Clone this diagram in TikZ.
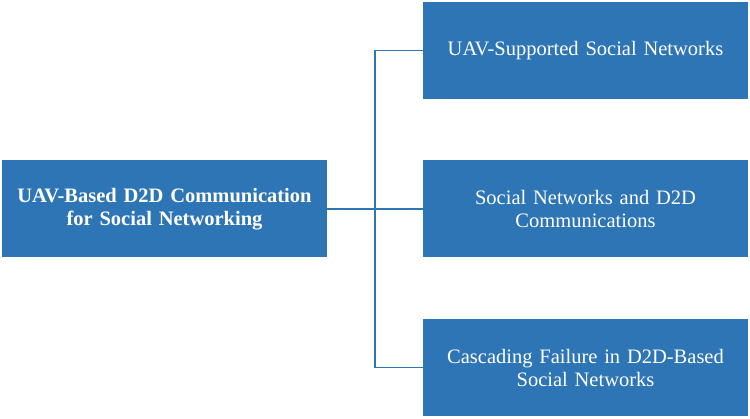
\documentclass[tikz,border=0pt]{standalone}
\usepackage{fontspec}
\setmainfont{Liberation Serif}
\definecolor{boxblue}{HTML}{2E75B6}
\begin{document}
\begin{tikzpicture}[x=1pt,y=1pt,
  bbox/.style={fill=boxblue,draw=none,minimum width=325pt,minimum height=97pt,text=white,align=center,font=\fontsize{20.5}{23}\selectfont,inner sep=2pt,text width=315pt},
  conn/.style={draw=boxblue,line width=1.8pt}]
\useasboundingbox (0,0) rectangle (750,419);
\node[bbox,font=\fontsize{20.5}{23}\selectfont\bfseries] (main) at (164.5,210) {UAV-Based D2D Communication\\for Social Networking};
\node[bbox] (a) at (585.5,368.5) {UAV-Supported Social Networks};
\node[bbox] (b) at (585.5,210) {Social Networks and D2D\\Communications};
\node[bbox] (c) at (585.5,51.5) {Cascading Failure in D2D-Based\\Social Networks};
\coordinate (v) at (375,210);
\draw[conn] (main.east) -- (b.west);
\draw[conn] (a.west) -- (a.west -| v) -- (c.west -| v) -- (c.west);
\end{tikzpicture}
\end{document}
